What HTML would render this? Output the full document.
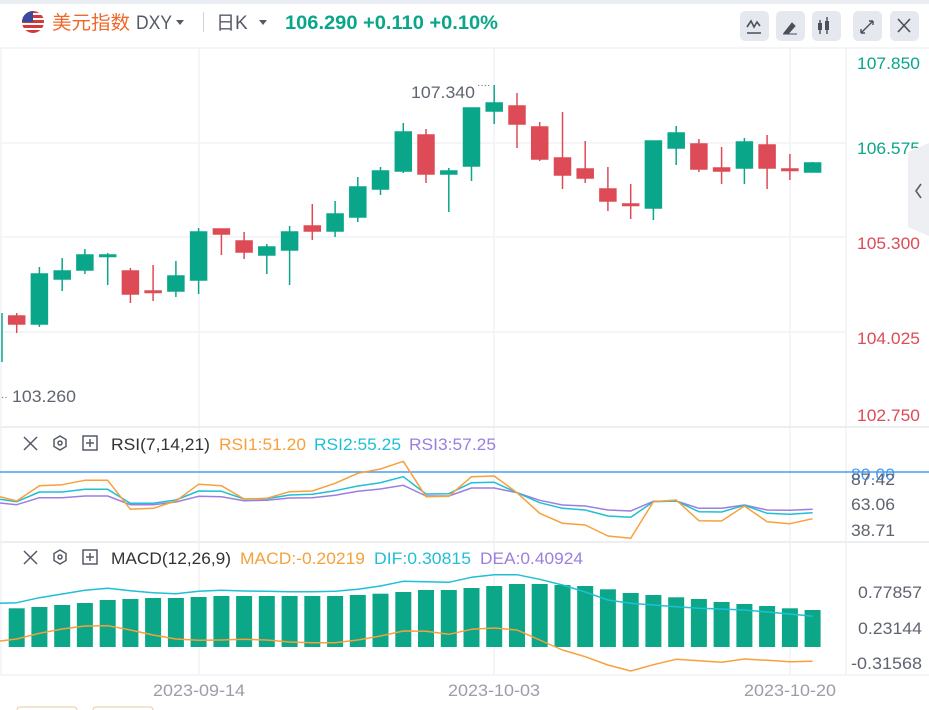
<!DOCTYPE html>
<html><head><meta charset="utf-8"><style>
html,body{margin:0;padding:0;background:#fff;width:929px;height:710px;overflow:hidden}
svg{display:block}
text{font-family:"Liberation Sans","Noto Sans CJK SC",sans-serif}
</style></head><body>
<svg width="929" height="710" viewBox="0 0 929 710" xmlns="http://www.w3.org/2000/svg">
<rect x="0" y="0" width="929" height="710" fill="#fff"/>
<rect x="0" y="0" width="929" height="4" fill="#e9ecf1"/>
<!-- header -->
<circle cx="33" cy="22" r="11" fill="#d23a3a"/>
<rect x="22" y="13" width="22" height="2" fill="#fff"/><rect x="22" y="18" width="22" height="2" fill="#fff"/><rect x="22" y="23" width="22" height="2" fill="#fff"/><rect x="22" y="28" width="22" height="2" fill="#fff"/>
<path d="M22,22 A11,11 0 0 1 33,11 L33,22 Z" fill="#3b4a9e"/>
<text x="52" y="29" font-size="19" fill="#f0682a" textLength="78" lengthAdjust="spacingAndGlyphs">美元指数</text>
<text x="136" y="29" font-size="19" fill="#555b66" textLength="36" lengthAdjust="spacingAndGlyphs">DXY</text>
<path d="M176,20 l8,0 l-4,5z" fill="#555b66"/>
<rect x="203" y="12" width="1" height="20" fill="#cfd3da"/>
<text x="216" y="29" font-size="19" fill="#555b66">日K</text>
<path d="M259,20 l8,0 l-4,5z" fill="#555b66"/>
<text x="285" y="29" font-size="19" font-weight="bold" fill="#0aa689" textLength="213" lengthAdjust="spacingAndGlyphs">106.290 +0.110 +0.10%</text>
<g fill="#e5e8ee"><rect x="740" y="11" width="29" height="30" rx="5"/><rect x="776" y="11" width="29" height="30" rx="5"/><rect x="812" y="11" width="29" height="30" rx="5"/><rect x="853" y="11" width="29" height="30" rx="5"/><rect x="890" y="11" width="29" height="30" rx="5"/></g>
<path d="M747,27 l4,-6 l3,6 l3,-5 l3,4 M747,33 h14" stroke="#4a4f59" stroke-width="1.6" fill="none"/>
<path d="M784,33 l8,-10 l3,3 l-7,8 z M783,34 h14" fill="#4a4f59" stroke="#4a4f59" stroke-width="1"/>
<path d="M820,20 v14 M827,17 v17" stroke="#4a4f59" stroke-width="1.4"/><rect x="818" y="23" width="4" height="7" fill="#4a4f59"/><rect x="825" y="21" width="4" height="9" fill="#4a4f59"/>
<path d="M861,33 l12,-12 M861,33 v-4 M861,33 h4 M873,21 v4 M873,21 h-4" stroke="#4a4f59" stroke-width="1.4" fill="none"/>
<path d="M898,19 l12,13 M910,19 l-12,13" stroke="#4a4f59" stroke-width="1.6"/>
<!-- grids -->
<g stroke="#f1f2f5" stroke-width="1.5">
<line x1="0" y1="48" x2="929" y2="48"/>
<line x1="0" y1="143" x2="846" y2="143"/><line x1="0" y1="237" x2="846" y2="237"/><line x1="0" y1="332" x2="846" y2="332"/>
<line x1="199" y1="48" x2="199" y2="675"/><line x1="494" y1="48" x2="494" y2="675"/><line x1="790" y1="48" x2="790" y2="675"/>
<line x1="846" y1="48" x2="846" y2="675"/>
<line x1="0" y1="427" x2="929" y2="427" stroke="#eceef2" stroke-width="2"/>
<line x1="0" y1="542" x2="929" y2="542" stroke="#eceef2" stroke-width="2"/>
<line x1="0" y1="675" x2="929" y2="675"/>
<line x1="1" y1="48" x2="1" y2="675"/>
</g>
<!-- price axis -->
<g font-size="17">
<text x="857" y="69" fill="#0aa689" textLength="63" lengthAdjust="spacingAndGlyphs">107.850</text>
<text x="857" y="154" fill="#0aa689" textLength="63" lengthAdjust="spacingAndGlyphs">106.575</text>
<text x="857" y="249" fill="#dd4b57" textLength="63" lengthAdjust="spacingAndGlyphs">105.300</text>
<text x="857" y="344" fill="#dd4b57" textLength="63" lengthAdjust="spacingAndGlyphs">104.025</text>
<text x="857" y="421" fill="#dd4b57" textLength="63" lengthAdjust="spacingAndGlyphs">102.750</text>
</g>
<path d="M908,152 l21,-9 v93 l-21,-9z" fill="#eeeff2"/>
<path d="M921,184 l-5,7 l5,7" stroke="#5a5f6a" stroke-width="1.6" fill="none"/>
<text x="411" y="98" font-size="17" fill="#5f6470" textLength="64" lengthAdjust="spacingAndGlyphs">107.340</text>
<text x="477" y="88" font-size="10" fill="#5f6470">····</text>
<text x="1" y="400" font-size="10" fill="#5f6470">··</text>
<text x="12" y="402" font-size="17" fill="#5f6470" textLength="64" lengthAdjust="spacingAndGlyphs">103.260</text>
<!-- candles -->
<g stroke-width="1.5">
<line x1="2" y1="313" x2="2" y2="362" stroke="#0aa689"/>
<g stroke="#dd4b57" fill="#dd4b57">
<line x1="16.7" y1="313" x2="16.7" y2="333"/><rect x="8.7" y="316" width="16" height="8"/>
<line x1="130.4" y1="268" x2="130.4" y2="303"/><rect x="122.4" y="271" width="16" height="23"/>
<line x1="153.1" y1="265" x2="153.1" y2="301"/><rect x="145.1" y="291" width="16" height="1.5"/>
<line x1="221.4" y1="229" x2="221.4" y2="255"/><rect x="213.4" y="229" width="16" height="5"/>
<line x1="244.1" y1="232" x2="244.1" y2="259"/><rect x="236.1" y="241" width="16" height="11"/>
<line x1="312.3" y1="204" x2="312.3" y2="240"/><rect x="304.3" y="226" width="16" height="5"/>
<line x1="426" y1="129" x2="426" y2="183"/><rect x="418" y="135" width="16" height="39"/>
<line x1="517" y1="93" x2="517" y2="148"/><rect x="509" y="106" width="16" height="18"/>
<line x1="539.7" y1="122" x2="539.7" y2="161"/><rect x="531.7" y="127" width="16" height="32"/>
<line x1="562.5" y1="112" x2="562.5" y2="189"/><rect x="554.5" y="158" width="16" height="17"/>
<line x1="585.2" y1="141" x2="585.2" y2="183"/><rect x="577.2" y="169" width="16" height="9"/>
<line x1="607.9" y1="167" x2="607.9" y2="211"/><rect x="599.9" y="189" width="16" height="12"/>
<line x1="630.7" y1="184" x2="630.7" y2="219"/><rect x="622.7" y="204" width="16" height="1.5"/>
<line x1="698.9" y1="139" x2="698.9" y2="172"/><rect x="690.9" y="144" width="16" height="25"/>
<line x1="721.6" y1="147" x2="721.6" y2="184"/><rect x="713.6" y="168" width="16" height="3"/>
<line x1="767.1" y1="135" x2="767.1" y2="189"/><rect x="759.1" y="145" width="16" height="23"/>
<line x1="789.9" y1="154" x2="789.9" y2="180"/><rect x="781.9" y="169" width="16" height="1.5"/>
</g>
<g stroke="#0aa689" fill="#0aa689">
<line x1="39.4" y1="267" x2="39.4" y2="327"/><rect x="31.4" y="274" width="16" height="50"/>
<line x1="62.2" y1="258" x2="62.2" y2="291"/><rect x="54.2" y="271" width="16" height="8"/>
<line x1="84.9" y1="249" x2="84.9" y2="274"/><rect x="76.9" y="255" width="16" height="15"/>
<line x1="107.7" y1="253" x2="107.7" y2="285"/><rect x="99.7" y="255" width="16" height="1.5"/>
<line x1="175.9" y1="261" x2="175.9" y2="297"/><rect x="167.9" y="276" width="16" height="15"/>
<line x1="198.6" y1="228" x2="198.6" y2="294"/><rect x="190.6" y="232" width="16" height="48"/>
<line x1="266.8" y1="244" x2="266.8" y2="274"/><rect x="258.8" y="247" width="16" height="8"/>
<line x1="289.6" y1="226" x2="289.6" y2="285"/><rect x="281.6" y="232" width="16" height="18"/>
<line x1="335.1" y1="201" x2="335.1" y2="237"/><rect x="327.1" y="214" width="16" height="17"/>
<line x1="357.8" y1="177" x2="357.8" y2="222"/><rect x="349.8" y="187" width="16" height="30"/>
<line x1="380.5" y1="167" x2="380.5" y2="195"/><rect x="372.5" y="171" width="16" height="18"/>
<line x1="403.3" y1="123" x2="403.3" y2="173"/><rect x="395.3" y="132" width="16" height="39"/>
<line x1="448.8" y1="168" x2="448.8" y2="212"/><rect x="440.8" y="171" width="16" height="3"/>
<line x1="471.5" y1="108" x2="471.5" y2="181"/><rect x="463.5" y="108" width="16" height="58"/>
<line x1="494.2" y1="85" x2="494.2" y2="124"/><rect x="486.2" y="103" width="16" height="8"/>
<line x1="653.4" y1="141" x2="653.4" y2="220"/><rect x="645.4" y="141" width="16" height="67"/>
<line x1="676.2" y1="126" x2="676.2" y2="165"/><rect x="668.2" y="133" width="16" height="15"/>
<line x1="744.4" y1="138" x2="744.4" y2="184"/><rect x="736.4" y="142" width="16" height="26"/>
<line x1="812.6" y1="162" x2="812.6" y2="172"/><rect x="804.6" y="163" width="16" height="9"/>
</g>
</g>
<!-- legends -->
<g stroke="#555b66" stroke-width="1.5" fill="none">
<path d="M24,437 l13,13 M37,437 l-13,13"/>
<path d="M60,436 l6,3.5 v7 l-6,3.5 l-6,-3.5 v-7z"/><circle cx="60" cy="443" r="2"/>
<rect x="83" y="436" width="14" height="14"/><path d="M90,439 v8 M86,443 h8"/>
<path d="M24,551 l13,13 M37,551 l-13,13"/>
<path d="M60,550 l6,3.5 v7 l-6,3.5 l-6,-3.5 v-7z"/><circle cx="60" cy="557" r="2"/>
<rect x="83" y="550" width="14" height="14"/><path d="M90,553 v8 M86,557 h8"/>
</g>
<g font-size="17" lengthAdjust="spacingAndGlyphs">
<text x="111" y="450" fill="#333" textLength="99" lengthAdjust="spacingAndGlyphs">RSI(7,14,21)</text>
<text x="219" y="450" fill="#f7a03c" textLength="87" lengthAdjust="spacingAndGlyphs">RSI1:51.20</text>
<text x="314" y="450" fill="#1fbfd6" textLength="87" lengthAdjust="spacingAndGlyphs">RSI2:55.25</text>
<text x="409" y="450" fill="#9b7fe0" textLength="87" lengthAdjust="spacingAndGlyphs">RSI3:57.25</text>
<text x="111" y="564" fill="#333" textLength="120" lengthAdjust="spacingAndGlyphs">MACD(12,26,9)</text>
<text x="240" y="564" fill="#f7a03c" textLength="125" lengthAdjust="spacingAndGlyphs">MACD:-0.20219</text>
<text x="374" y="564" fill="#1fbfd6" textLength="97" lengthAdjust="spacingAndGlyphs">DIF:0.30815</text>
<text x="480" y="564" fill="#9b7fe0" textLength="103" lengthAdjust="spacingAndGlyphs">DEA:0.40924</text>
</g>
<line x1="0" y1="472" x2="929" y2="472" stroke="#4a9ef0" stroke-width="1.5"/>
<g font-size="17">
<text x="851" y="480" fill="#4a9ef0" textLength="44" lengthAdjust="spacingAndGlyphs">80.00</text>
<text x="851" y="485" fill="#5f6470" textLength="44" lengthAdjust="spacingAndGlyphs">87.42</text>
<text x="851" y="510" fill="#5f6470" textLength="44" lengthAdjust="spacingAndGlyphs">63.06</text>
<text x="851" y="536" fill="#5f6470" textLength="44" lengthAdjust="spacingAndGlyphs">38.71</text>
<text x="858" y="598" fill="#5f6470" textLength="64" lengthAdjust="spacingAndGlyphs">0.77857</text>
<text x="858" y="634" fill="#5f6470" textLength="64" lengthAdjust="spacingAndGlyphs">0.23144</text>
<text x="851" y="669" fill="#5f6470" textLength="71" lengthAdjust="spacingAndGlyphs">-0.31568</text>
</g>
<g fill="none" stroke-width="1.5" stroke-linejoin="round">
<polyline stroke="#9b7fe0" points="0,503 16.7,504.7 39.4,497.7 62.2,497.7 84.9,496 107.7,496 130.4,504.7 153.1,504.7 175.9,502 198.6,496.3 221.4,496.7 244.1,500.7 266.8,500.3 289.6,498 312.3,497.7 335.1,495.3 357.8,491.3 380.5,489 403.3,485.3 426,496 448.8,496 471.5,488 494.2,488 517,492.7 539.7,500.3 562.5,505 585.2,506 607.9,510 630.7,511 653.4,501.3 676.2,501 698.9,508.3 721.6,508.3 744.4,505 767.1,510 789.9,510.3 812.6,509.3"/>
<polyline stroke="#1fbfd6" points="0,499.3 16.7,501.7 39.4,492 62.2,492 84.9,489.3 107.7,489.3 130.4,503.3 153.1,503.3 175.9,500 198.6,491 221.4,491.3 244.1,499 266.8,498.7 289.6,495 312.3,494.3 335.1,490.7 357.8,486 380.5,482.7 403.3,476.7 426,494 448.8,493.7 471.5,482.7 494.2,482.3 517,492.7 539.7,502.7 562.5,508.3 585.2,510 607.9,516 630.7,517.3 653.4,501.7 676.2,501 698.9,511.7 721.6,512 744.4,505.3 767.1,513.3 789.9,514.3 812.6,512.7"/>
<polyline stroke="#f7a03c" points="0,496.7 16.7,501 39.4,485.7 62.2,484.7 84.9,480.3 107.7,480.3 130.4,509.3 153.1,508.3 175.9,501 198.6,484.3 221.4,485.7 244.1,499 266.8,498.3 289.6,491.7 312.3,491 335.1,483.3 357.8,473.3 380.5,469 403.3,461.3 426,496.7 448.8,496.3 471.5,476.7 494.2,476 517,492.7 539.7,513.3 562.5,523.3 585.2,525 607.9,536 630.7,538.3 653.4,501.7 676.2,500 698.9,520.7 721.6,521 744.4,506 767.1,521.7 789.9,523.7 812.6,518.7"/>
</g>
<!-- MACD bars -->
<g fill="#0ca789">
<rect x="8.7" y="608.3" width="16" height="38.7"/><rect x="31.4" y="607" width="16" height="40"/><rect x="54.2" y="605" width="16" height="42"/><rect x="76.9" y="603" width="16" height="44"/><rect x="99.7" y="600" width="16" height="47"/><rect x="122.4" y="599" width="16" height="48"/><rect x="145.1" y="598" width="16" height="49"/><rect x="167.9" y="598" width="16" height="49"/><rect x="190.6" y="597" width="16" height="50"/><rect x="213.4" y="596" width="16" height="51"/><rect x="236.1" y="596" width="16" height="51"/><rect x="258.8" y="596" width="16" height="51"/><rect x="281.6" y="596" width="16" height="51"/><rect x="304.3" y="596" width="16" height="51"/><rect x="327.1" y="596" width="16" height="51"/><rect x="349.8" y="595" width="16" height="52"/><rect x="372.5" y="593.7" width="16" height="53.3"/><rect x="395.3" y="592" width="16" height="55"/><rect x="418" y="590" width="16" height="57"/><rect x="440.8" y="590" width="16" height="57"/><rect x="463.5" y="588" width="16" height="59"/><rect x="486.2" y="586" width="16" height="61"/><rect x="509" y="584" width="16" height="63"/><rect x="531.7" y="584" width="16" height="63"/><rect x="554.5" y="585" width="16" height="62"/><rect x="577.2" y="586" width="16" height="61"/><rect x="599.9" y="589.3" width="16" height="57.7"/><rect x="622.7" y="593" width="16" height="54"/><rect x="645.4" y="595" width="16" height="52"/><rect x="668.2" y="597.3" width="16" height="49.7"/><rect x="690.9" y="599" width="16" height="48"/><rect x="713.6" y="602" width="16" height="45"/><rect x="736.4" y="604" width="16" height="43"/><rect x="759.1" y="606" width="16" height="41"/><rect x="781.9" y="608.3" width="16" height="38.7"/><rect x="804.6" y="610" width="16" height="37"/>
</g>
<g fill="none" stroke-width="1.5" stroke-linejoin="round">
<polyline stroke="#1fbfd6" points="0,603.3 16.7,602.7 39.4,597.7 62.2,594 84.9,590.3 107.7,588.3 130.4,590.7 153.1,592.7 175.9,593.7 198.6,591.3 221.4,590.3 244.1,591 266.8,591.3 289.6,591.7 312.3,591.7 335.1,591.3 357.8,589.3 380.5,586 403.3,581.3 426,581.7 448.8,582.3 471.5,577.3 494.2,574.7 517,574.7 539.7,579.3 562.5,585 585.2,592 607.9,600 630.7,603.3 653.4,605 676.2,606.7 698.9,608.3 721.6,609 744.4,610 767.1,612 789.9,614 812.6,616.3"/>
<polyline stroke="#f7a03c" points="0,641 16.7,639 39.4,633.3 62.2,629 84.9,626 107.7,625.7 130.4,630 153.1,635 175.9,639 198.6,640.3 221.4,640 244.1,639.3 266.8,640 289.6,642 312.3,642.7 335.1,642.7 357.8,640 380.5,636 403.3,631 426,631.3 448.8,634.3 471.5,629.3 494.2,628 517,630 539.7,640 562.5,650 585.2,656.7 607.9,665 630.7,671 653.4,664.7 676.2,659.3 698.9,660.7 721.6,662.3 744.4,659 767.1,660.3 789.9,661.7 812.6,661.3"/>
</g>
<!-- time axis -->
<g font-size="17" fill="#9a9ea8">
<text x="153" y="696" textLength="92" lengthAdjust="spacingAndGlyphs">2023-09-14</text>
<text x="448" y="696" textLength="92" lengthAdjust="spacingAndGlyphs">2023-10-03</text>
<text x="744" y="696" textLength="92" lengthAdjust="spacingAndGlyphs">2023-10-20</text>
</g>
<rect x="17" y="707" width="60" height="10" rx="3" fill="none" stroke="#e8c89a"/>
<rect x="93" y="707" width="60" height="10" rx="3" fill="none" stroke="#e8c89a"/>
</svg>
</body></html>
